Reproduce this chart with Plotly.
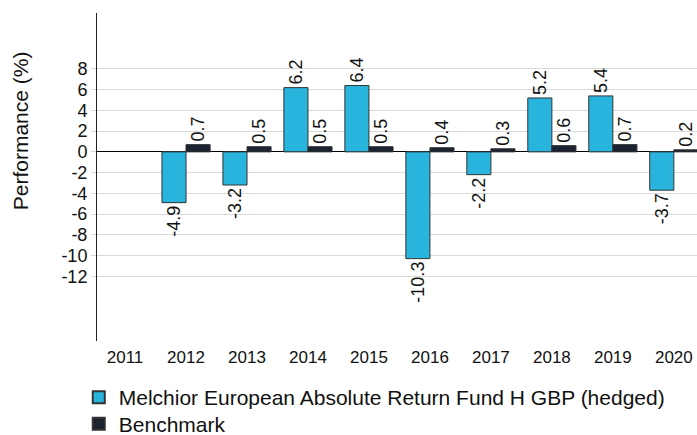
import plotly.graph_objects as go

years = ["2011", "2012", "2013", "2014", "2015", "2016", "2017", "2018", "2019", "2020"]
fund = [None, -4.9, -3.2, 6.2, 6.4, -10.3, -2.2, 5.2, 5.4, -3.7]
bench = [None, 0.7, 0.5, 0.5, 0.5, 0.4, 0.3, 0.6, 0.7, 0.2]
y_ticks = [8, 6, 4, 2, 0, -2, -4, -6, -8, -10, -12]
y_tick_text = ["8", "6", "4", "2", "0", "-2", "-4", "-6", "-8", "-10", "-12"]
fund_name = "Melchior European Absolute Return Fund H GBP (hedged)"
bench_name = "Benchmark"

FONT = "Liberation Sans, Arial, sans-serif"

def fmt(v):
    return "" if v is None else f"{v:.1f}"

fig = go.Figure()
fig.add_trace(go.Bar(
    x=years, y=fund, name=fund_name, legend="legend",
    marker=dict(color="#29b4de", line=dict(color="#333333", width=1)),
    text=[fmt(v) for v in fund], textposition="outside", textangle=-90,
    textfont=dict(size=18, color="#111111", family=FONT),
    constraintext="none", cliponaxis=False,
))
fig.add_trace(go.Bar(
    x=years, y=bench, name=bench_name, legend="legend2",
    marker=dict(color="#1b2333", line=dict(color="#333333", width=1)),
    text=[fmt(v) for v in bench], textposition="outside", textangle=-90,
    textfont=dict(size=18, color="#111111", family=FONT),
    constraintext="none", cliponaxis=False,
))

legend_common = dict(
    xref="container", yref="container", xanchor="left", yanchor="top",
    orientation="v", font=dict(size=21, family=FONT, color="#111111"),
    itemsizing="constant", bgcolor="rgba(0,0,0,0)",
)

fig.update_layout(
    width=697, height=435,
    margin=dict(l=97, r=0, t=13, b=94, autoexpand=False),
    paper_bgcolor="white", plot_bgcolor="white",
    font=dict(family=FONT, size=17, color="#111111"),
    barmode="group", bargap=0.21, bargroupgap=0,
    showlegend=True,
    legend=dict(x=0.113, y=0.133, **legend_common),
    legend2=dict(x=0.113, y=0.072, **legend_common),
    xaxis=dict(
        type="category", range=[-0.46, 9.38], automargin=False,
        showline=False, showgrid=False, zeroline=False,
        ticks="outside", ticklen=1, tickcolor="rgba(0,0,0,0)",
        tickfont=dict(size=17, family=FONT, color="#111111"),
    ),
    yaxis=dict(
        range=[-18.25, 13.4], tickvals=y_ticks, ticktext=y_tick_text,
        automargin=False,
        showgrid=True, gridcolor="#d9d9d9", gridwidth=1,
        zeroline=True, zerolinecolor="#000000", zerolinewidth=1,
        showline=True, linecolor="#222222", linewidth=1,
        ticks="outside", ticklen=5, tickcolor="#d9d9d9",
        tickfont=dict(size=18, family=FONT, color="#111111"),
    ),
    annotations=[dict(
        text="Performance (%)", textangle=-90, showarrow=False,
        xref="paper", yref="paper", x=-0.128, y=0.64,
        xanchor="center", yanchor="middle",
        font=dict(size=21, family=FONT, color="#111111"),
    )],
)

fig.write_html(
    "out.html",
    config={"displayModeBar": False},
    post_script="document.body.style.margin='0';document.body.style.overflow='hidden';",
)
